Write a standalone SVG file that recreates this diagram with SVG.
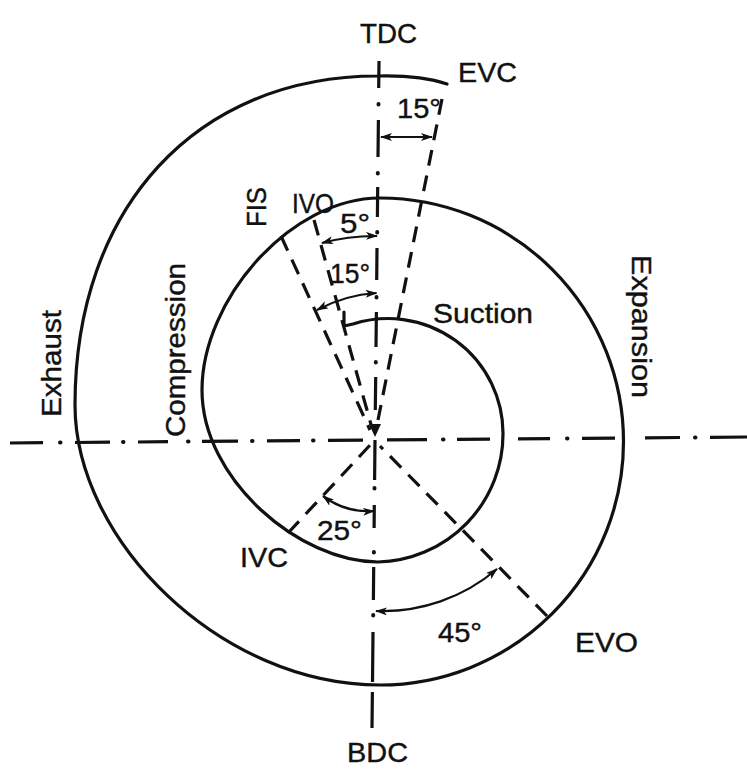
<svg xmlns="http://www.w3.org/2000/svg" width="747" height="776" viewBox="0 0 747 776">
<style>
.bg{fill:#ffffff}
.curve{fill:none;stroke:#111;stroke-width:3.2;stroke-linecap:round;stroke-linejoin:round}
.axis{fill:none;stroke:#111;stroke-width:3.2;stroke-linecap:butt}
.dot{fill:none;stroke:#111;stroke-width:4;stroke-linecap:round}
.dash{fill:none;stroke:#111;stroke-width:3.2;stroke-dasharray:16 10}
.arr{fill:none;stroke:#111;stroke-width:2.2;marker-start:url(#ah);marker-end:url(#ah)}
.lbl{font-family:"Liberation Sans",Arial,sans-serif;fill:#111;stroke:#111;stroke-width:0.4;font-size:28px}
</style>
<defs>
<marker id="ah" viewBox="0 0 12 8" refX="11" refY="4" markerWidth="12" markerHeight="8" markerUnits="userSpaceOnUse" orient="auto-start-reverse">
<path d="M0,0 L12,4 L0,8 L3,4 z" fill="#111"/>
</marker>
</defs>
<rect class="bg" x="0" y="0" width="747" height="776"/>

<g id="axes">
<path class="axis" d="M379,61 L378.7,88 M378.4,120 L378,157 M377.7,187 L377.4,217 M377,248 L376.7,280 M376.4,312 L376,347 M375.7,377 L375.3,410 M375,440 L374.6,480 M374.3,505 L374.1,528 M373.7,567 L373.4,600 M373,632 L372.5,682 M372.4,692 L372,728"/>
<path class="dot" d="M378.5,104 l0,0.5 M377.8,173 l0,0.5 M377.2,232 l0,0.5 M376.5,297 l0,0.5 M375.8,362 l0,0.5 M374.5,488 l0,0.5 M373.9,552 l0,0.5 M373.2,615 l0,0.5"/>
<path class="axis" d="M10,443 L43,442.7 M75,442.5 L110,442.2 M138,442 L168,441.7 M202,441.4 L238,441.1 M267,440.9 L300,440.6 M328,440.4 L363,440.1 M387,439.9 L427,439.6 M457,439.4 L490,439.1 M518,438.9 L550,438.6 M582,438.3 L615,438.1 M645,437.8 L680,437.5 M710,437.3 L747,437"/>
<path class="dot" d="M60,442.6 l0.5,0 M123,442.1 l0.5,0 M188,441.6 l0.5,0 M252,441 l0.5,0 M313,440.5 l0.5,0 M443,439.5 l0.5,0 M567,438.5 l0.5,0 M695,437.4 l0.5,0"/>
<path d="M369,424 L381,424 L375,437 Z" fill="#111"/>
</g>

<g id="spiral">
<path class="curve" d="M344,312 L344,326 L353,324 A115,115 0 0 1 503,433 A128,128 0 0 1 378,562 C300,562 202,480 202,390 C202,300 290,198 380,198 A243.5,243.5 0 0 1 380,685 C220,685 75,540 75,405 C75,208 196,76 378,76 Q420,75 447,84"/>
</g>

<g id="connectors">
<path class="dash" d="M442,99 L378,420"/>
<path class="dash" d="M314,220 L372,428"/>
<path class="dash" d="M281,236 L370,430"/>
<path class="dash" d="M288,533 L372,443"/>
<path class="dash" d="M547,616 L380,446"/>
<path class="arr" d="M381,137 L432,137"/>
<path class="arr" d="M322,243 A203,203 0 0 1 377,236"/>
<path class="arr" d="M317,310 A145,145 0 0 1 376.5,293"/>
<path class="arr" d="M374,511 A75,75 0 0 1 323,496"/>
<path class="arr" d="M497,569 A176,176 0 0 1 376,611"/>
</g>

<g id="labels">
<text class="lbl" x="360" y="43" font-size="28" textLength="57" lengthAdjust="spacingAndGlyphs">TDC</text>
<text class="lbl" x="458" y="82" font-size="27" textLength="59" lengthAdjust="spacingAndGlyphs">EVC</text>
<text class="lbl" x="397" y="118" font-size="28" textLength="44" lengthAdjust="spacingAndGlyphs">15°</text>
<text class="lbl" x="292" y="213" font-size="27" textLength="42" lengthAdjust="spacingAndGlyphs">IVO</text>
<text class="lbl" x="340" y="233" font-size="28" textLength="30" lengthAdjust="spacingAndGlyphs">5°</text>
<text class="lbl" x="330" y="283" font-size="28" textLength="40" lengthAdjust="spacingAndGlyphs">15°</text>
<text class="lbl" x="433" y="323" font-size="29" textLength="100" lengthAdjust="spacingAndGlyphs">Suction</text>
<text class="lbl" x="240" y="567" font-size="29" textLength="48" lengthAdjust="spacingAndGlyphs">IVC</text>
<text class="lbl" x="317" y="540" font-size="29" textLength="45" lengthAdjust="spacingAndGlyphs">25°</text>
<text class="lbl" x="438" y="642" font-size="29" textLength="44" lengthAdjust="spacingAndGlyphs">45°</text>
<text class="lbl" x="575" y="652" font-size="29" textLength="63" lengthAdjust="spacingAndGlyphs">EVO</text>
<text class="lbl" x="347" y="762" font-size="29" textLength="61" lengthAdjust="spacingAndGlyphs">BDC</text>
<text class="lbl" transform="translate(266,227) rotate(-90)" font-size="27" textLength="40" lengthAdjust="spacingAndGlyphs">FIS</text>
<text class="lbl" transform="translate(61,417) rotate(-90)" font-size="30" textLength="107" lengthAdjust="spacingAndGlyphs">Exhaust</text>
<text class="lbl" transform="translate(185,437) rotate(-90)" font-size="30" textLength="174" lengthAdjust="spacingAndGlyphs">Compression</text>
<text class="lbl" transform="translate(632,255) rotate(90)" font-size="30" textLength="143" lengthAdjust="spacingAndGlyphs">Expansion</text>
</g>
</svg>
